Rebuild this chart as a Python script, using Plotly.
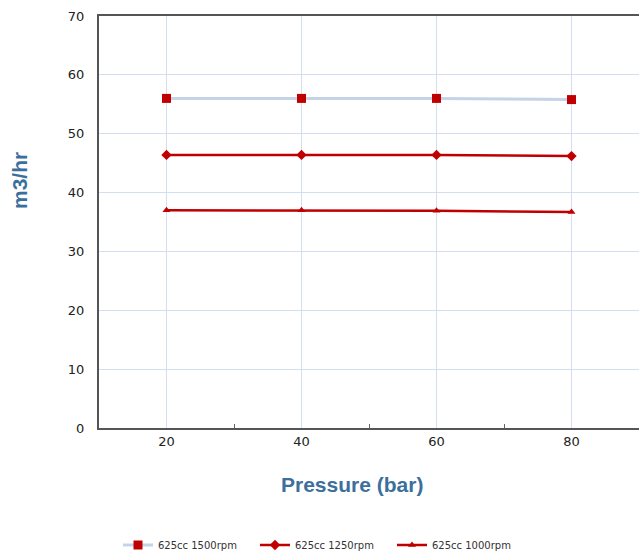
import plotly.graph_objects as go

pressure = [20, 40, 60, 80]
flow_1500 = [56.0, 56.0, 56.0, 55.8]
flow_1250 = [46.4, 46.4, 46.4, 46.2]
flow_1000 = [37.0, 37.0, 36.9, 36.7]
names = ["625cc 1500rpm", "625cc 1250rpm", "625cc 1000rpm"]

W, H = 639, 555
L, T, B = 99, 16, 127
PW, PH = W - L, H - T - B
BOT = H - B  # pixel row of x-axis

red = "#c00000"
fig = go.Figure()
fig.add_trace(go.Scatter(x=pressure, y=flow_1500, name=names[0], mode="lines+markers",
                         line=dict(color="#c5d3e6", width=3),
                         marker=dict(symbol="square", size=9, color=red)))
fig.add_trace(go.Scatter(x=pressure, y=flow_1250, name=names[1], mode="lines+markers",
                         line=dict(color=red, width=2.5),
                         marker=dict(symbol="diamond", size=8, color=red)))
fig.add_trace(go.Scatter(x=pressure, y=flow_1000, name=names[2], mode="lines+markers",
                         line=dict(color=red, width=2.5),
                         marker=dict(symbol="triangle-up", size=7, color=red)))

fig.update_layout(
    width=W, height=H,
    margin=dict(l=L, r=0, t=T, b=B),
    paper_bgcolor="white", plot_bgcolor="white",
    font=dict(family="DejaVu Sans", size=13, color="#222"),
    showlegend=True,
    legend=dict(orientation="h", xref="container", yref="container",
                x=118 / W, xanchor="left", y=(H - 545) / H, yanchor="middle",
                font=dict(size=10, color="#333"), itemwidth=30, tracegroupgap=0,
                entrywidth=92, entrywidthmode="pixels"),
    xaxis=dict(range=[10, 90], tickvals=[20, 40, 60, 80], showgrid=True,
               gridcolor="#d3def0", gridwidth=1, showline=True, linecolor="#555",
               linewidth=2, mirror=True, ticks="", zeroline=False,
               minor=dict(tickvals=[30, 50, 70], ticks="inside", ticklen=4,
                          tickcolor="#666", showgrid=False)),
    yaxis=dict(range=[0, 70], dtick=10, showgrid=True, gridcolor="#d3def0",
               gridwidth=1, showline=True, linecolor="#555", linewidth=2,
               ticks="", zeroline=False, ticklabelstandoff=10),
)
fig.add_annotation(text="<b>Pressure (bar)</b>", xref="paper", yref="paper",
                   x=(352 - L) / PW, y=-(484 - BOT) / PH, xanchor="center", yanchor="middle",
                   showarrow=False,
                   font=dict(family="Liberation Sans", size=21, color="#3d6f9c"))
fig.add_annotation(text="<b>m3/hr</b>", xref="paper", yref="paper",
                   x=-(L - 19) / PW, y=(BOT - 181) / PH, xanchor="center", yanchor="middle",
                   textangle=-90, showarrow=False,
                   font=dict(family="Liberation Sans", size=21, color="#3d6f9c"))
fig.write_html("out.html",
               config={"displayModeBar": False},
               post_script="document.body.style.margin='0';"
                           "document.body.style.overflow='hidden';")
